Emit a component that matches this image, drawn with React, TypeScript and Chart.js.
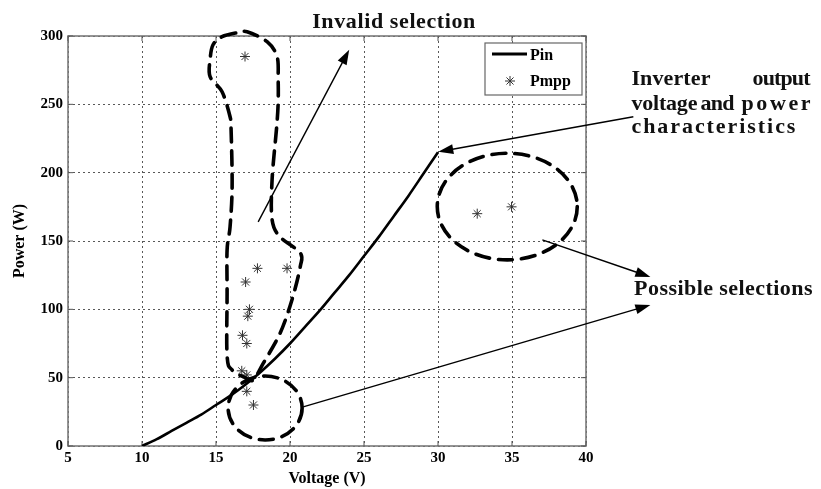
import React, { useEffect, useRef } from 'react';
import { Chart, registerables } from 'chart.js';

Chart.register(...registerables);

// Inverter input power characteristic (Pin) vs. voltage
const pinVoltage = [10, 11, 12, 13, 14, 15, 16, 17, 18, 19, 20, 21, 22, 23, 24, 25, 26, 27, 28, 29, 30];
const pinPower = [0, 5, 11, 17, 23, 30, 37, 45, 54, 64, 75, 87, 99, 112, 125, 139, 153, 168, 183, 199, 215];

// Maximum power points (Pmpp)
const mppVoltage = [16.96, 17.8, 19.8, 17.0, 17.26, 17.15, 16.79, 17.08, 16.74, 17.08, 17.08, 17.53, 32.65, 34.97];
const mppPower = [285, 130, 130, 120, 100, 95, 81, 75, 55, 52, 40, 30, 170, 175];

// Axis ranges and tick steps
const xRange = [5, 40];
const yRange = [0, 300];
const xStep = 5;
const yStep = 50;

// Annotation geometry, expressed in axis units (voltage, power)
const invalidRegion: [number, number][] = [
  [15.41, 299.5], [16.43, 302.4], [17.1, 303.1], [18.45, 295.8], [19.13, 284.8],
  [19.2, 268.0], [19.2, 251.2], [19.1, 233.6], [18.79, 194.8], [18.79, 165.5],
  [19.33, 153.0], [20.69, 141.3], [20.69, 131.1], [20.13, 106.9], [19.33, 82.5],
  [18.2, 60.6], [17.51, 48.3], [16.97, 50.0], [16.09, 55.6], [15.75, 66.0],
  [15.75, 112.0], [15.75, 143.5], [15.95, 160.4], [16.09, 189.6], [16.02, 231.4],
  [15.95, 240.9], [15.41, 259.2], [14.6, 270.2], [14.6, 282.6], [14.8, 293.6],
];
const lowLoop = { c: [18.32, 27.8], r: [2.5, 23.4] };
const possibleRegion = { c: [34.68, 175.2], r: [4.73, 39.0] };
const arrows: [number, number][][] = [
  [[17.85, 164.0], [24.0, 290.0]],
  [[43.2, 240.9], [30.02, 215.3]],
  [[37.05, 150.8], [44.35, 123.7]],
  [[20.89, 28.6], [44.35, 103.2]],
];
// Text pieces: [text, left voltage, right voltage, baseline power]
const notes: [string, number, number, number][] = [
  ['Invalid selection', 21.5, 32.52, 306],
  ['Inverter', 43.07, 48.41, 264.3],
  ['output', 51.25, 55.17, 264.3],
  ['voltage', 43.07, 47.53, 246.0],
  ['and', 47.73, 50.03, 246.0],
  ['power', 50.5, 55.17, 246.0],
  ['characteristics', 43.07, 54.15, 229.2],
  ['Possible selections', 43.25, 55.3, 110.6],
];

const SERIF = '"Liberation Serif", "Times New Roman", serif';

function fitText(ctx: CanvasRenderingContext2D, text: string, x0: number, x1: number, y: number) {
  const c = ctx as any;
  if ('letterSpacing' in c) c.letterSpacing = '0px';
  const w = ctx.measureText(text).width;
  let sp = text.length > 1 ? (x1 - x0 - w) / (text.length - 1) : 0;
  sp = Math.max(-1, Math.min(sp, 3));
  if ('letterSpacing' in c) c.letterSpacing = sp.toFixed(2) + 'px';
  ctx.textAlign = 'left';
  ctx.textBaseline = 'alphabetic';
  ctx.fillText(text, x0, y);
  if ('letterSpacing' in c) c.letterSpacing = '0px';
}

function arrow(ctx: CanvasRenderingContext2D, ax: number, ay: number, bx: number, by: number) {
  const ang = Math.atan2(by - ay, bx - ax);
  const len = 15;
  const half = 5;
  ctx.save();
  ctx.setLineDash([]);
  ctx.strokeStyle = '#000';
  ctx.fillStyle = '#000';
  ctx.lineWidth = 1.4;
  ctx.beginPath();
  ctx.moveTo(ax, ay);
  ctx.lineTo(bx - Math.cos(ang) * (len - 2), by - Math.sin(ang) * (len - 2));
  ctx.stroke();
  ctx.beginPath();
  ctx.moveTo(bx, by);
  ctx.lineTo(bx - Math.cos(ang) * len - Math.sin(ang) * half, by - Math.sin(ang) * len + Math.cos(ang) * half);
  ctx.lineTo(bx - Math.cos(ang) * len + Math.sin(ang) * half, by - Math.sin(ang) * len - Math.cos(ang) * half);
  ctx.closePath();
  ctx.fill();
  ctx.restore();
}

const framePlugin = {
  id: 'frame',
  beforeDatasetsDraw(chart: any) {
    const { ctx, chartArea: a, scales } = chart;
    ctx.save();
    ctx.strokeStyle = '#7a7a7a';
    ctx.lineWidth = 1.6;
    ctx.setLineDash([]);
    ctx.strokeRect(a.left, a.top, a.right - a.left, a.bottom - a.top);
    // inward tick marks
    ctx.lineWidth = 1;
    ctx.strokeStyle = '#555';
    ctx.beginPath();
    for (const t of scales.x.ticks) {
      const px = scales.x.getPixelForValue(t.value);
      ctx.moveTo(px, a.bottom); ctx.lineTo(px, a.bottom - 5);
      ctx.moveTo(px, a.top); ctx.lineTo(px, a.top + 5);
    }
    for (const t of scales.y.ticks) {
      const py = scales.y.getPixelForValue(t.value);
      ctx.moveTo(a.left, py); ctx.lineTo(a.left + 5, py);
      ctx.moveTo(a.right, py); ctx.lineTo(a.right - 5, py);
    }
    ctx.stroke();
    ctx.restore();
  },
};

const notesPlugin = {
  id: 'notes',
  afterDraw(chart: any) {
    const { ctx, chartArea: a, scales } = chart;
    const X = (v: number) => scales.x.getPixelForValue(v);
    const Y = (p: number) => scales.y.getPixelForValue(p);
    ctx.save();

    // legend box
    const lx = a.right - 101;
    const ly = a.top + 7;
    ctx.fillStyle = '#fff';
    ctx.fillRect(lx, ly, 97, 52);
    ctx.strokeStyle = '#666';
    ctx.lineWidth = 1.2;
    ctx.strokeRect(lx, ly, 97, 52);
    ctx.strokeStyle = '#000';
    ctx.lineWidth = 3;
    ctx.beginPath();
    ctx.moveTo(lx + 7, ly + 11);
    ctx.lineTo(lx + 42, ly + 11);
    ctx.stroke();
    ctx.strokeStyle = '#333';
    ctx.lineWidth = 1;
    const sx = lx + 25, sy = ly + 38, r = 5;
    ctx.beginPath();
    for (let k = 0; k < 4; k++) {
      const ang = (k * Math.PI) / 4;
      ctx.moveTo(sx - Math.cos(ang) * r, sy - Math.sin(ang) * r);
      ctx.lineTo(sx + Math.cos(ang) * r, sy + Math.sin(ang) * r);
    }
    ctx.stroke();
    ctx.fillStyle = '#000';
    ctx.font = 'bold 16px ' + SERIF;
    ctx.textAlign = 'left';
    ctx.textBaseline = 'middle';
    ctx.fillText('Pin', lx + 45, ly + 13);
    ctx.fillText('Pmpp', lx + 45, ly + 39);

    // dashed region outlines
    ctx.strokeStyle = '#000';
    ctx.lineWidth = 3.6;
    ctx.setLineDash([14, 9]);
    ctx.lineCap = 'round';
    const pts = invalidRegion.map(([v, p]) => [X(v), Y(p)]);
    const n = pts.length;
    ctx.beginPath();
    ctx.moveTo(pts[0][0], pts[0][1]);
    for (let i = 0; i < n; i++) {
      const p0 = pts[(i - 1 + n) % n], p1 = pts[i], p2 = pts[(i + 1) % n], p3 = pts[(i + 2) % n];
      ctx.bezierCurveTo(
        p1[0] + (p2[0] - p0[0]) / 6, p1[1] + (p2[1] - p0[1]) / 6,
        p2[0] - (p3[0] - p1[0]) / 6, p2[1] - (p3[1] - p1[1]) / 6,
        p2[0], p2[1]
      );
    }
    ctx.stroke();

    for (const e of [lowLoop, possibleRegion]) {
      const cx = X(e.c[0]), cy = Y(e.c[1]);
      const rx = Math.abs(X(e.c[0] + e.r[0]) - cx);
      const ry = Math.abs(Y(e.c[1] + e.r[1]) - cy);
      ctx.beginPath();
      ctx.ellipse(cx, cy, rx, ry, 0, 0, Math.PI * 2);
      ctx.stroke();
    }
    ctx.setLineDash([]);
    ctx.lineCap = 'butt';

    for (const [[v0, p0], [v1, p1]] of arrows) arrow(ctx, X(v0), Y(p0), X(v1), Y(p1));

    ctx.fillStyle = '#111';
    ctx.font = 'bold 22px ' + SERIF;
    for (const [t, v0, v1, p] of notes) fitText(ctx, t, X(v0), X(v1), Y(p));
    ctx.restore();
  },
};

export default function App() {
  const ref = useRef<HTMLCanvasElement | null>(null);

  useEffect(() => {
    const canvas = ref.current;
    if (!canvas) return;
    const tickFont = { family: SERIF, size: 15, weight: 'bold' as const };
    const titleFont = { family: SERIF, size: 16, weight: 'bold' as const };
    const gridColor = 'rgba(70,70,70,0.9)';
    const chart = new Chart(canvas, {
      type: 'scatter',
      data: {
        datasets: [
          {
            label: 'Pin',
            data: pinVoltage.map((v, i) => ({ x: v, y: pinPower[i] })),
            showLine: true,
            borderColor: '#000',
            backgroundColor: '#000',
            borderWidth: 2.6,
            pointRadius: 0,
            cubicInterpolationMode: 'monotone',
          },
          {
            label: 'Pmpp',
            data: mppVoltage.map((v, i) => ({ x: v, y: mppPower[i] })),
            showLine: false,
            pointStyle: 'star',
            pointRadius: 5,
            borderColor: '#333',
            backgroundColor: '#333',
            borderWidth: 1,
          },
        ],
      },
      options: {
        responsive: false,
        animation: false,
        devicePixelRatio: 1,
        layout: { padding: { left: 0, top: 36, right: 235, bottom: 0 } },
        plugins: { legend: { display: false }, tooltip: { enabled: false } },
        scales: {
          x: {
            type: 'linear',
            min: xRange[0],
            max: xRange[1],
            ticks: { stepSize: xStep, font: tickFont, color: '#000', padding: 3 },
            grid: { color: gridColor, lineWidth: 1, drawTicks: false },
            border: { display: false, dash: [2, 3] },
            title: { display: true, text: 'Voltage (V)', font: titleFont, color: '#000', padding: { top: 0, bottom: 1 } },
            afterFit: (s: any) => { s.height = 43; },
          },
          y: {
            type: 'linear',
            min: yRange[0],
            max: yRange[1],
            ticks: { stepSize: yStep, font: tickFont, color: '#000', padding: 5 },
            grid: { color: gridColor, lineWidth: 1, drawTicks: false },
            border: { display: false, dash: [2, 3] },
            title: { display: true, text: 'Power (W)', font: titleFont, color: '#000', padding: { top: 10, bottom: 0 } },
            afterFit: (s: any) => { s.width = 68; },
          },
        },
      },
      plugins: [framePlugin, notesPlugin],
    } as any);
    return () => chart.destroy();
  }, []);

  return (
    <div style={{ position: 'fixed', left: 0, top: 0, width: 821, height: 489, background: '#fff' }}>
      <canvas ref={ref} width={821} height={489} style={{ display: 'block' }} />
    </div>
  );
}
